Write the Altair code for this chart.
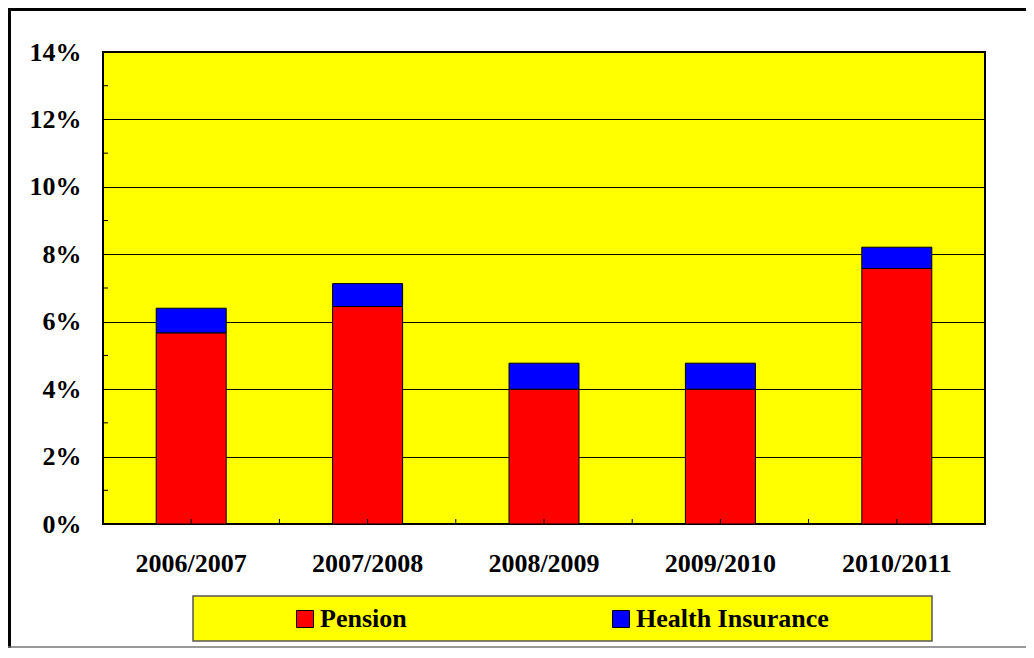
import altair as alt
import pandas as pd

periods = ["2006/2007", "2007/2008", "2008/2009", "2009/2010", "2010/2011"]
pension = [5.67, 6.45, 4.0, 4.0, 7.58]
health = [0.73, 0.68, 0.77, 0.77, 0.63]
series = ["Pension", "Health Insurance"]
series_colors = ["#FF0000", "#0000FF"]
major_ticks = [0, 2, 4, 6, 8, 10, 12, 14]
minor_ticks = [1, 3, 5, 7, 9, 11, 13]

FONT = "Liberation Serif"
W, H = 882, 472

rows = []
for p, a, b in zip(periods, pension, health):
    rows.append({"period": p, "series": series[0], "value": a, "ord": 0})
    rows.append({"period": p, "series": series[1], "value": b, "ord": 1})
bars_df = pd.DataFrame(rows)

x_scale = alt.Scale(domain=periods, paddingInner=0, paddingOuter=0)
y_scale = alt.Scale(domain=[0, 14], nice=False)

bars = alt.Chart(bars_df).mark_bar(size=70, stroke="black", strokeWidth=1).encode(
    x=alt.X("period:N", scale=x_scale, sort=periods,
            axis=alt.Axis(title=None, labelAngle=0, ticks=False, domain=False,
                          labelPadding=26, labelFont=FONT, labelFontSize=26,
                          labelFontWeight="bold", labelColor="black")),
    y=alt.Y("value:Q", scale=y_scale, stack="zero",
            axis=alt.Axis(title=None, values=major_ticks, labelExpr="datum.value + '%'",
                          grid=True, gridColor="black", gridWidth=1, ticks=False,
                          domain=False, labelPadding=22, labelFont=FONT,
                          labelFontSize=26, labelFontWeight="bold", labelColor="black")),
    color=alt.Color("series:N", scale=alt.Scale(domain=series, range=series_colors),
                    legend=alt.Legend(title=None, orient="none", legendX=189, legendY=554,
                                      direction="horizontal", symbolType="square",
                                      symbolSize=289, symbolStrokeColor="black",
                                      symbolStrokeWidth=1, labelFont=FONT,
                                      labelFontSize=26, labelFontWeight="bold",
                                      labelColor="black", labelOffset=2, labelLimit=0,
                                      columnPadding=201, padding=0)),
    order=alt.Order("ord:Q"),
)

minor_df = pd.DataFrame({"v": minor_ticks})
minor = alt.Chart(minor_df).mark_rule(color="black", strokeWidth=1).encode(
    y=alt.Y("v:Q", scale=y_scale),
    x=alt.value(0), x2=alt.value(5),
)

per_df = pd.DataFrame({"period": periods})
center_ticks = alt.Chart(per_df).mark_rule(color="black", strokeWidth=1).encode(
    x=alt.X("period:N", scale=x_scale, sort=periods),
    y=alt.value(H), y2=alt.value(H - 5),
)
bound_df = pd.DataFrame({"period": periods[:-1]})
bound_ticks = alt.Chart(bound_df).mark_rule(color="black", strokeWidth=1, xOffset=W / 10).encode(
    x=alt.X("period:N", scale=x_scale, sort=periods),
    y=alt.value(H), y2=alt.value(H - 5),
)

frame_df = pd.DataFrame({"k": [0]})
top_line = alt.Chart(frame_df).mark_rule(color="black", strokeWidth=3).encode(
    x=alt.value(-95), x2=alt.value(931), y=alt.value(-42.5))
left_line = alt.Chart(frame_df).mark_rule(color="black", strokeWidth=3).encode(
    x=alt.value(-93.5), y=alt.value(-44), y2=alt.value(596))
bottom_line = alt.Chart(frame_df).mark_rule(color="#777777", strokeWidth=1.5).encode(
    x=alt.value(-95), x2=alt.value(931), y=alt.value(595))
legend_box = alt.Chart(frame_df).mark_rect(fill="#FFFF00", stroke="#555555", strokeWidth=1.5).encode(
    x=alt.value(90), x2=alt.value(829), y=alt.value(544), y2=alt.value(589))

chart = alt.layer(
    top_line, left_line, bottom_line, legend_box, bars, minor, center_ticks, bound_ticks
).properties(
    width=W, height=H,
    autosize=alt.AutoSizeParams(type="none"),
    padding={"left": 95, "top": 44, "right": 41, "bottom": 124},
    background="white",
).configure_view(fill="#FFFF00", stroke="black", strokeWidth=2)

chart.save("out.html", embed_options={"renderer": "svg", "actions": False})
